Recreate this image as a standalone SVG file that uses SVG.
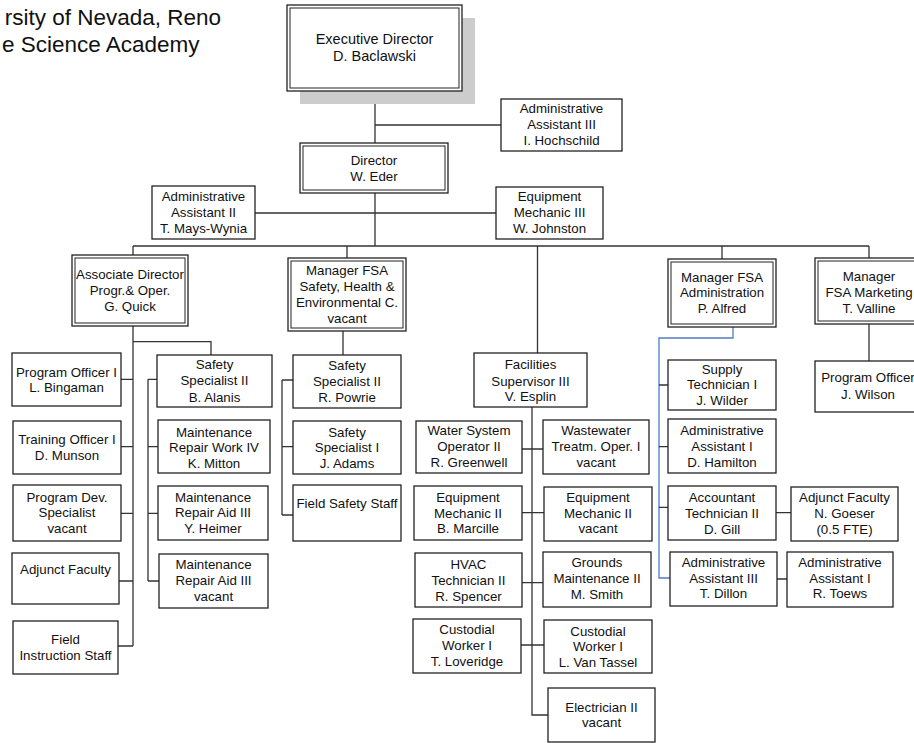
<svg xmlns="http://www.w3.org/2000/svg" width="914" height="743" viewBox="0 0 914 743">
<style>
text{font-family:"Liberation Sans",Arial,sans-serif;font-size:13.3px;fill:#111;text-anchor:middle}
.title{font-size:22.5px;text-anchor:end}
.big{font-size:14.5px}
rect{fill:#fff;stroke:#222;stroke-width:1.3}
.in{fill:none;stroke-width:1}
.sh{fill:#cccccc;stroke:none}
#connectors path{fill:none;stroke:#333;stroke-width:1.3}
#connectors path.blue{stroke:#4f7cc4}
</style>
<text class="title" x="221" y="25">rsity of Nevada, Reno</text>
<text class="title" x="199.5" y="52">e Science Academy</text>

<g id="connectors">
<path d="M375,91V143M375,125H501M375,193V246M255,213H496M133,246H869"/>
<path d="M133,246V255M347,246V258M537.5,246V353M722,246V259M869,246V258"/>
<path d="M133,326V646M133,341.7H211V355M121,379.3H133M121,446.7H133M121,513.3H133M119,581H133M118,646H133"/>
<path d="M148,379.3V581M148,379.3H157M148,446.7H158M148,513.3H158M148,581H159"/>
<path d="M343,331V355M282,380V515M282,380H293M282,446.7H293M282,515H293"/>
<path d="M532,407V715H548M522,449H543M522,512.7H544M522,582.7H543M521,645H544"/>
<path class="blue" d="M733,327V338H659V578H670"/>
<path d="M659,385H668M659,446.7H668M659,507.3H668M776,512.7H791M777,579H787M869,324V361"/>
</g>

<g id="exec">
<rect class="sh" x="300" y="18" width="175" height="86"/>
<rect x="287" y="5" width="175" height="86"/>
<rect class="in" x="290" y="8" width="169" height="80"/>
<text class="big" x="374.5" y="43.5">Executive Director</text>
<text class="big" x="374.5" y="61">D. Baclawski</text>
</g>
<g id="hochschild">
<rect x="501" y="99" width="121" height="52"/>
<text x="561.5" y="113">Administrative</text><text x="561.5" y="129">Assistant III</text><text x="561.5" y="145">I. Hochschild</text>
</g>
<g id="director">
<rect x="300" y="143" width="148" height="50"/>
<rect class="in" x="303" y="146" width="142" height="44"/>
<text x="374" y="165">Director</text><text x="374" y="181">W. Eder</text>
</g>
<g id="mayswynia">
<rect x="152" y="186" width="103" height="53"/>
<text x="203.5" y="201">Administrative</text><text x="203.5" y="217">Assistant II</text><text x="203.5" y="233">T. Mays-Wynia</text>
</g>
<g id="johnston">
<rect x="496" y="187" width="107" height="52"/>
<text x="549.5" y="201">Equipment</text><text x="549.5" y="217">Mechanic III</text><text x="549.5" y="233">W. Johnston</text>
</g>
<g id="quick">
<rect x="72" y="255" width="116" height="71"/>
<rect class="in" x="75" y="258" width="110" height="65"/>
<text x="130" y="279">Associate Director</text><text x="130" y="295">Progr.&amp; Oper.</text><text x="130" y="311">G. Quick</text>
</g>
<g id="mgrsafety">
<rect x="288" y="258" width="118" height="73"/>
<rect class="in" x="291" y="261" width="112" height="67"/>
<text x="347" y="275">Manager FSA</text><text x="347" y="290.5">Safety, Health &amp;</text><text x="347" y="306.5">Environmental C.</text><text x="347" y="322.5">vacant</text>
</g>
<g id="powrie">
<rect x="293" y="355" width="108" height="53"/>
<text x="347" y="369.5">Safety</text><text x="347" y="385.5">Specialist II</text><text x="347" y="401.5">R. Powrie</text>
</g>
<g id="adams">
<rect x="293" y="421" width="108" height="53"/>
<text x="347" y="436.5">Safety</text><text x="347" y="452">Specialist I</text><text x="347" y="468">J. Adams</text>
</g>
<g id="fieldsafety">
<rect x="293" y="485" width="108" height="56"/>
<text x="347" y="508">Field Safety Staff</text>
</g>
<g id="bingaman">
<rect x="12" y="353" width="109" height="53"/>
<text x="66.5" y="376.5">Program Officer I</text><text x="66.5" y="392">L. Bingaman</text>
</g>
<g id="munson">
<rect x="13" y="421" width="108" height="53"/>
<text x="67" y="444">Training Officer I</text><text x="67" y="460">D. Munson</text>
</g>
<g id="progdev">
<rect x="13" y="485" width="108" height="56"/>
<text x="67" y="501.5">Program Dev.</text><text x="67" y="517">Specialist</text><text x="67" y="533">vacant</text>
</g>
<g id="adjunct">
<rect x="12" y="553" width="107" height="51"/>
<text x="65.5" y="574">Adjunct Faculty</text>
</g>
<g id="fieldinstr">
<rect x="13" y="621" width="105" height="53"/>
<text x="65.5" y="644">Field</text><text x="65.5" y="660">Instruction Staff</text>
</g>
<g id="alanis">
<rect x="157" y="355" width="115" height="52"/>
<text x="214.5" y="369">Safety</text><text x="214.5" y="385">Specialist II</text><text x="214.5" y="401.5">B. Alanis</text>
</g>
<g id="mitton">
<rect x="158" y="420" width="112" height="53"/>
<text x="214" y="436.5">Maintenance</text><text x="214" y="452">Repair Work IV</text><text x="214" y="467.5">K. Mitton</text>
</g>
<g id="heimer">
<rect x="158" y="486" width="110" height="54"/>
<text x="213" y="501.5">Maintenance</text><text x="213" y="517">Repair Aid III</text><text x="213" y="533">Y. Heimer</text>
</g>
<g id="repairvacant">
<rect x="159" y="554" width="109" height="54"/>
<text x="213.5" y="569">Maintenance</text><text x="213.5" y="585">Repair Aid III</text><text x="213.5" y="601">vacant</text>
</g>
<g id="esplin">
<rect x="474" y="353" width="113" height="54"/>
<text x="530.5" y="369">Facilities</text><text x="530.5" y="385.5">Supervisor III</text><text x="530.5" y="401">V. Esplin</text>
</g>
<g id="greenwell">
<rect x="416" y="421" width="106" height="52"/>
<text x="469" y="435">Water System</text><text x="469" y="451">Operator II</text><text x="469" y="466.5">R. Greenwell</text>
</g>
<g id="wastewater">
<rect x="543" y="420" width="106" height="54"/>
<text x="596" y="435">Wastewater</text><text x="596" y="451">Treatm. Oper. I</text><text x="596" y="466.5">vacant</text>
</g>
<g id="marcille">
<rect x="414" y="486" width="108" height="54"/>
<text x="468" y="501.5">Equipment</text><text x="468" y="517.5">Mechanic II</text><text x="468" y="533">B. Marcille</text>
</g>
<g id="eqvacant">
<rect x="544" y="487" width="108" height="54"/>
<text x="598" y="501.5">Equipment</text><text x="598" y="517.5">Mechanic II</text><text x="598" y="533">vacant</text>
</g>
<g id="spencer">
<rect x="415" y="553" width="107" height="54"/>
<text x="468.5" y="569">HVAC</text><text x="468.5" y="585">Technician II</text><text x="468.5" y="601">R. Spencer</text>
</g>
<g id="smith">
<rect x="543" y="552" width="108" height="55"/>
<text x="597" y="566.5">Grounds</text><text x="597" y="583">Maintenance II</text><text x="597" y="599">M. Smith</text>
</g>
<g id="loveridge">
<rect x="413" y="619" width="108" height="54"/>
<text x="467" y="634">Custodial</text><text x="467" y="650">Worker I</text><text x="467" y="666">T. Loveridge</text>
</g>
<g id="vantassel">
<rect x="544" y="620" width="108" height="53"/>
<text x="598" y="635.5">Custodial</text><text x="598" y="651">Worker I</text><text x="598" y="666.5">L. Van Tassel</text>
</g>
<g id="electrician">
<rect x="548" y="688" width="107" height="54"/>
<text x="601.5" y="712">Electrician II</text><text x="601.5" y="727">vacant</text>
</g>
<g id="alfred">
<rect x="668" y="259" width="108" height="68"/>
<rect class="in" x="671" y="262" width="102" height="62"/>
<text x="722" y="281.5">Manager FSA</text><text x="722" y="297">Administration</text><text x="722" y="313">P. Alfred</text>
</g>
<g id="valline">
<rect x="815" y="258" width="108" height="66"/>
<rect class="in" x="818" y="261" width="102" height="60"/>
<text x="869" y="281">Manager</text><text x="869" y="297">FSA Marketing</text><text x="869" y="313">T. Valline</text>
</g>
<g id="wilson">
<rect x="815" y="361" width="108" height="51"/>
<text x="868" y="382">Program Officer</text><text x="868" y="398.5">J. Wilson</text>
</g>
<g id="wilder">
<rect x="668" y="360" width="108" height="50"/>
<text x="722" y="374">Supply</text><text x="722" y="389">Technician I</text><text x="722" y="404.5">J. Wilder</text>
</g>
<g id="hamilton">
<rect x="668" y="419" width="108" height="54"/>
<text x="722" y="435">Administrative</text><text x="722" y="451">Assistant I</text><text x="722" y="467">D. Hamilton</text>
</g>
<g id="gill">
<rect x="668" y="486" width="108" height="54"/>
<text x="722" y="501.5">Accountant</text><text x="722" y="517.5">Technician II</text><text x="722" y="533.5">D. Gill</text>
</g>
<g id="goeser">
<rect x="791" y="487" width="107" height="54"/>
<text x="844.5" y="501.5">Adjunct Faculty</text><text x="844.5" y="517.5">N. Goeser</text><text x="844.5" y="533.5">(0.5 FTE)</text>
</g>
<g id="dillon">
<rect x="670" y="552" width="107" height="54"/>
<text x="723.5" y="567">Administrative</text><text x="723.5" y="583">Assistant III</text><text x="723.5" y="598">T. Dillon</text>
</g>
<g id="toews">
<rect x="787" y="552" width="106" height="55"/>
<text x="840" y="567">Administrative</text><text x="840" y="583">Assistant I</text><text x="840" y="598">R. Toews</text>
</g>
</svg>
